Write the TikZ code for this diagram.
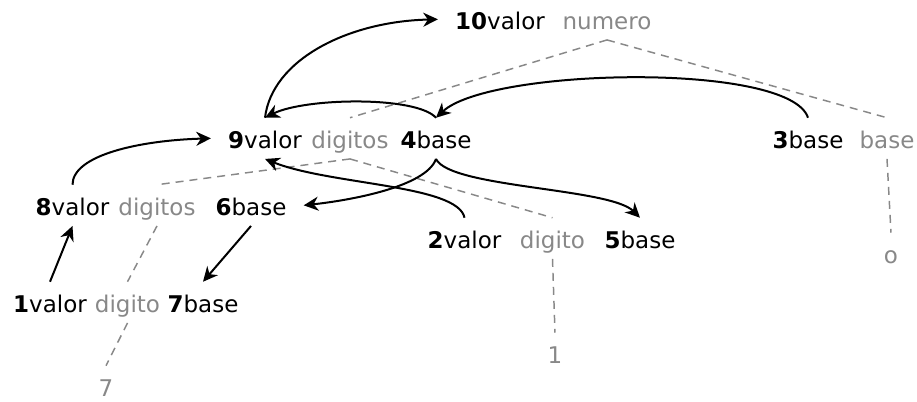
\documentclass[tikz,border=0pt]{standalone}
\usepackage{fontspec}
\setmainfont{DejaVu Sans}
\usetikzlibrary{arrows.meta}
\definecolor{treegray}{RGB}{136,136,136}
\begin{document}
\begin{tikzpicture}[x=0.75pt,y=-0.75pt,
  font=\fontsize{17.25pt}{20pt}\selectfont,
  lbl/.style={inner xsep=12.75pt, inner ysep=5pt, text height=17.5pt, text depth=3pt, anchor=base},
  glbl/.style={lbl, inner xsep=0pt, text=treegray},
  arr/.style={-{Stealth[length=11pt,width=10.5pt,inset=3.5pt]}, line width=1.5pt},
  tree/.style={draw=treegray, line width=1.1pt, dash pattern=on 6pt off 4.5pt}]
\useasboundingbox (0,0) rectangle (917,401);
% black labels
\node[lbl] (n10) at (500,29) {\textbf{10}valor};
\node[lbl] (n9) at (265,148) {\textbf{9}valor};
\node[lbl] (n4) at (436,148) {\textbf{4}base};
\node[lbl] (n3) at (808,148) {\textbf{3}base};
\node[lbl] (n8) at (72.5,215) {\textbf{8}valor};
\node[lbl] (n6) at (251,215) {\textbf{6}base};
\node[lbl] (n2) at (464.5,248) {\textbf{2}valor};
\node[lbl] (n5) at (640,248) {\textbf{5}base};
\node[lbl] (n1) at (50,312) {\textbf{1}valor};
\node[lbl] (n7) at (203,312) {\textbf{7}base};
% gray labels
\node[glbl] (g10) at (607,29) {numero};
\node[glbl] (g9) at (350,148) {digitos};
\node[glbl] (g3) at (887,148) {base};
\node[glbl] (g8) at (157,215) {digitos};
\node[glbl] (g2) at (552.5,248) {digito};
\node[glbl] (g1) at (127.5,312) {digito};
\node[glbl] (lo) at (891,263) {o};
\node[glbl] (l1) at (555,363) {1};
\node[glbl] (l7) at (106,396) {7};
% tree lines
\draw[tree] (g10.south) -- (g9.north);
\draw[tree] (g10.south) -- (g3.north);
\draw[tree] (g9.south) -- (g8.north);
\draw[tree] (g9.south) -- (g2.north);
\draw[tree] (g3.south) -- (lo.north);
\draw[tree] (g2.south) -- (l1.north);
\draw[tree] (g8.south) -- (g1.north);
\draw[tree] (g1.south) -- (l7.north);
% arrows
\draw[arr] (n1.north) -- (n8.south);
\draw[arr] (n8.north) .. controls +(0,-30) and +(-70,2) .. (n9.west);
\draw[arr] (n9.north) .. controls +(7,-58) and +(-90,2) .. (n10.west);
\draw[arr] (n4.north) .. controls +(-20,-22) and +(40,-20) .. (n9.north);
\draw[arr] (n3.north) .. controls +(-18,-56) and +(54,-50) .. (n4.north);
\draw[arr] (n4.south) .. controls +(-10,28) and +(46,-5) .. (n6.east);
\draw[arr] (n4.south) .. controls +(14,29) and +(-30,-30) .. (n5.north);
\draw[arr] (n2.north) .. controls +(-6.5,-33) and +(65,26) .. (n9.south);
\draw[arr] (n6.south) -- (n7.north);
\end{tikzpicture}
\end{document}
